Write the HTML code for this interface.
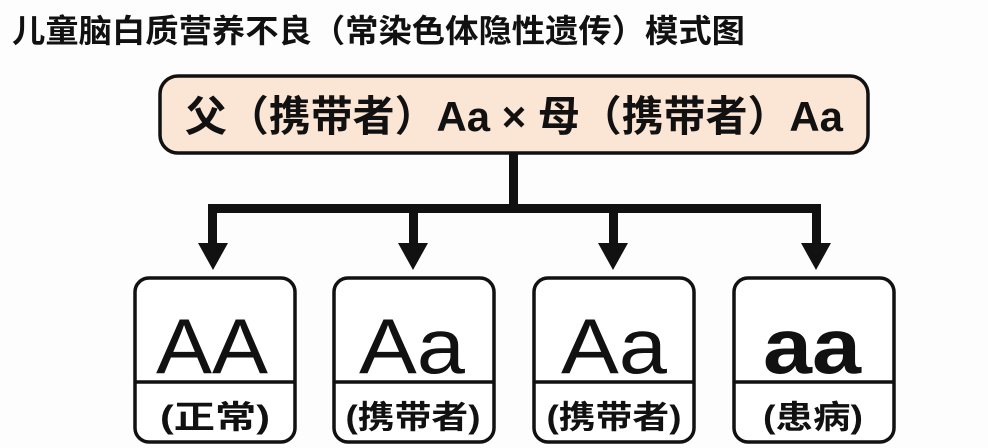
<!DOCTYPE html>
<html><head><meta charset="utf-8"><style>
body{margin:0;background:#fff;}
svg{display:block}
text{font-family:"Liberation Sans","Noto Sans CJK SC",sans-serif;}
</style></head><body>
<svg width="988" height="448" viewBox="0 0 988 448">
<rect width="988" height="448" fill="#fdfdfd"/>
<text x="12" y="42" font-size="32" font-weight="bold" fill="#111" textLength="733" lengthAdjust="spacingAndGlyphs">儿童脑白质营养不良（常染色体隐性遗传）模式图</text>
<rect x="160" y="76" width="708" height="77" rx="18" fill="#fbe5d4" stroke="#111" stroke-width="3.5"/>
<text x="185" y="131" font-size="42" font-weight="bold" fill="#111" textLength="658" lengthAdjust="spacingAndGlyphs">父（携带者）Aa × 母（携带者）Aa</text>
<g fill="#111">
<rect x="509" y="152" width="9" height="57"/>
<rect x="208" y="204" width="613" height="9"/>
<rect x="208" y="204" width="9" height="44"/>
<rect x="409" y="204" width="9" height="44"/>
<rect x="609" y="204" width="9" height="44"/>
<rect x="812" y="204" width="9" height="44"/>
<polygon points="198,243 228,243 213,270"/>
<polygon points="398,243 428,243 413,270"/>
<polygon points="598,243 628,243 613,270"/>
<polygon points="801,243 831,243 816,270"/>
</g>
<g stroke="#111" stroke-width="3.5" fill="#fff">
<rect x="135" y="278" width="160" height="164" rx="14"/>
<rect x="334" y="278" width="160" height="164" rx="14"/>
<rect x="534" y="278" width="160" height="164" rx="14"/>
<rect x="734" y="278" width="160" height="164" rx="14"/>
<line x1="135" y1="382" x2="295" y2="382"/>
<line x1="334" y1="382" x2="494" y2="382"/>
<line x1="534" y1="382" x2="694" y2="382"/>
<line x1="734" y1="382" x2="894" y2="382"/>
</g>
<g font-size="78" text-anchor="middle" fill="#111">
<text x="212" y="373" textLength="112" lengthAdjust="spacingAndGlyphs">AA</text>
<text x="412" y="373" textLength="106" lengthAdjust="spacingAndGlyphs">Aa</text>
<text x="614" y="373" textLength="106" lengthAdjust="spacingAndGlyphs">Aa</text>
<text x="812" y="373" font-weight="bold" textLength="98" lengthAdjust="spacingAndGlyphs">aa</text>
</g>
<g font-size="32" font-weight="bold" text-anchor="middle" fill="#111">
<text x="215" y="428" textLength="110" lengthAdjust="spacingAndGlyphs">(正常)</text>
<text x="413" y="428" textLength="135" lengthAdjust="spacingAndGlyphs">(携带者)</text>
<text x="614" y="428" textLength="135" lengthAdjust="spacingAndGlyphs">(携带者)</text>
<text x="813" y="428" textLength="100" lengthAdjust="spacingAndGlyphs">(患病)</text>
</g>
</svg>
</body></html>
